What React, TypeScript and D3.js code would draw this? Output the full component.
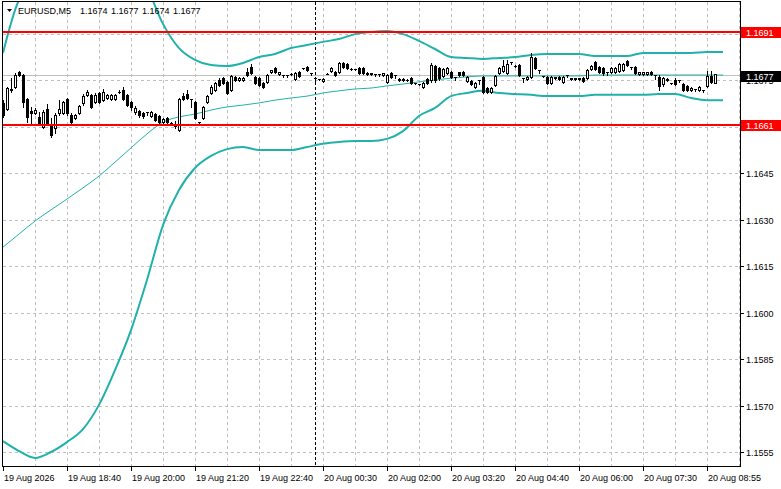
import React from 'react';
import * as d3 from 'd3';

const symbolTitle = 'EURUSD,M5';
const ohlcTitle = ['1.1674', '1.1677', '1.1674', '1.1677'];

// [open, high, low, close]
const candles: [number, number, number, number][] = [
  [1.16677, 1.16686, 1.16632, 1.16638], [1.16657, 1.16728, 1.16654, 1.16725], [1.16719, 1.16757, 1.16712, 1.16722], [1.16728, 1.16774, 1.16725, 1.16767],
  [1.16777, 1.1678, 1.16764, 1.16767], [1.16767, 1.1677, 1.16664, 1.1668], [1.1669, 1.16693, 1.16615, 1.16632], [1.16651, 1.16664, 1.16612, 1.16645],
  [1.16645, 1.16661, 1.16641, 1.16654], [1.16632, 1.16648, 1.16609, 1.16612], [1.16599, 1.16654, 1.16596, 1.16648], [1.16657, 1.16674, 1.16606, 1.16612],
  [1.16609, 1.16628, 1.16567, 1.16574], [1.16596, 1.16645, 1.1658, 1.16638], [1.16645, 1.16686, 1.16638, 1.16657], [1.16645, 1.16683, 1.16641, 1.1668],
  [1.1669, 1.16693, 1.16638, 1.16645], [1.16638, 1.16645, 1.16609, 1.16615], [1.16628, 1.16641, 1.16625, 1.16638], [1.16645, 1.1667, 1.16641, 1.16667],
  [1.16677, 1.16706, 1.1667, 1.16699], [1.16703, 1.16719, 1.16699, 1.16712], [1.16703, 1.16706, 1.16661, 1.16664], [1.1668, 1.16709, 1.16677, 1.16703],
  [1.16709, 1.16712, 1.16677, 1.1668], [1.16686, 1.16722, 1.16683, 1.16712], [1.16693, 1.16706, 1.1669, 1.16703], [1.1669, 1.16706, 1.16686, 1.16703],
  [1.1669, 1.16706, 1.16686, 1.16703], [1.16712, 1.16719, 1.16709, 1.16712], [1.16719, 1.16728, 1.16686, 1.1669], [1.16703, 1.16706, 1.16667, 1.1667],
  [1.1668, 1.16683, 1.16654, 1.16664], [1.16648, 1.16667, 1.16641, 1.16661], [1.16651, 1.16654, 1.16632, 1.16638], [1.16645, 1.16648, 1.16628, 1.16635],
  [1.16648, 1.16648, 1.16638, 1.16648], [1.16635, 1.16651, 1.16632, 1.16648], [1.16641, 1.16645, 1.16619, 1.16622], [1.16635, 1.16638, 1.16612, 1.16615],
  [1.16615, 1.16628, 1.16612, 1.16625], [1.16628, 1.16632, 1.16609, 1.16615], [1.16612, 1.16615, 1.16609, 1.16612], [1.16603, 1.16619, 1.16596, 1.16609],
  [1.1659, 1.16693, 1.16586, 1.1669], [1.16699, 1.16709, 1.16686, 1.1669], [1.16706, 1.16719, 1.1669, 1.16693], [1.1669, 1.1669, 1.16664, 1.1669],
  [1.1668, 1.16683, 1.16625, 1.16628], [1.16615, 1.16615, 1.16609, 1.16615], [1.16628, 1.16667, 1.16625, 1.16664], [1.1668, 1.16703, 1.16677, 1.16699],
  [1.16709, 1.16735, 1.16706, 1.16728], [1.16719, 1.16745, 1.16716, 1.16741], [1.16751, 1.16757, 1.16732, 1.16735], [1.16757, 1.16761, 1.16738, 1.16741],
  [1.16745, 1.16748, 1.16706, 1.16709], [1.16719, 1.16767, 1.16716, 1.16764], [1.16761, 1.16764, 1.16748, 1.16751], [1.16751, 1.16761, 1.16748, 1.16757],
  [1.16751, 1.16761, 1.16748, 1.16757], [1.16777, 1.1679, 1.16764, 1.16767], [1.16793, 1.16803, 1.1677, 1.16774], [1.16761, 1.16764, 1.16738, 1.16741],
  [1.16757, 1.16761, 1.16732, 1.16735], [1.16741, 1.16745, 1.16725, 1.16728], [1.16745, 1.1677, 1.16741, 1.16767], [1.16777, 1.16783, 1.16774, 1.16783],
  [1.1679, 1.16793, 1.16774, 1.16777], [1.1677, 1.16777, 1.16767, 1.16777], [1.16767, 1.16767, 1.16761, 1.16767], [1.16767, 1.16767, 1.16761, 1.16767],
  [1.1677, 1.16774, 1.16767, 1.1677], [1.16754, 1.16777, 1.16751, 1.16774], [1.16777, 1.1678, 1.16761, 1.16764], [1.1679, 1.1679, 1.16786, 1.1679],
  [1.16793, 1.16796, 1.1678, 1.16783], [1.16774, 1.16774, 1.16767, 1.16774], [1.16757, 1.16757, 1.16745, 1.16757], [1.16754, 1.16754, 1.16751, 1.16754],
  [1.16748, 1.16757, 1.16745, 1.16754], [1.1677, 1.16774, 1.1677, 1.1677], [1.1678, 1.16793, 1.16777, 1.1679], [1.16777, 1.1678, 1.16764, 1.16767],
  [1.16777, 1.16809, 1.16774, 1.16806], [1.16806, 1.16809, 1.1679, 1.16793], [1.16803, 1.16806, 1.16786, 1.1679], [1.16786, 1.1679, 1.16783, 1.16786],
  [1.16786, 1.16786, 1.16783, 1.16786], [1.1679, 1.16793, 1.1677, 1.16774], [1.1679, 1.16793, 1.1677, 1.16774], [1.1677, 1.16777, 1.16767, 1.16774],
  [1.1677, 1.16774, 1.16767, 1.16774], [1.1677, 1.1677, 1.16764, 1.1677], [1.1677, 1.1677, 1.16764, 1.1677], [1.16767, 1.16774, 1.16764, 1.16774],
  [1.16745, 1.1677, 1.16741, 1.16767], [1.16774, 1.16777, 1.16757, 1.16761], [1.16767, 1.16767, 1.16757, 1.16767], [1.16754, 1.16757, 1.16748, 1.16751],
  [1.16751, 1.16757, 1.16748, 1.16754], [1.16751, 1.16754, 1.16748, 1.16751], [1.16757, 1.16761, 1.16738, 1.16741], [1.16741, 1.16741, 1.16738, 1.16741],
  [1.16738, 1.16738, 1.16735, 1.16738], [1.16728, 1.16745, 1.16725, 1.16741], [1.16754, 1.16757, 1.16738, 1.16741], [1.16751, 1.16806, 1.16745, 1.16799],
  [1.16796, 1.16799, 1.16745, 1.16751], [1.1679, 1.16793, 1.16751, 1.16757], [1.16764, 1.1679, 1.16761, 1.16786], [1.16774, 1.16793, 1.1677, 1.1679],
  [1.16777, 1.1678, 1.16757, 1.16761], [1.16761, 1.16761, 1.16751, 1.16761], [1.16777, 1.16777, 1.16764, 1.16767], [1.16777, 1.1678, 1.16764, 1.16767],
  [1.16748, 1.16764, 1.16745, 1.16761], [1.16748, 1.16751, 1.16735, 1.16738], [1.16728, 1.16745, 1.16725, 1.16741], [1.16751, 1.16751, 1.16738, 1.16751],
  [1.16761, 1.16764, 1.16709, 1.16712], [1.16725, 1.16728, 1.16709, 1.16712], [1.16712, 1.16728, 1.16709, 1.16725], [1.16735, 1.16767, 1.16732, 1.16764],
  [1.16774, 1.16793, 1.1677, 1.1679], [1.1678, 1.16816, 1.16777, 1.16796], [1.16774, 1.16816, 1.1677, 1.16803], [1.16809, 1.16809, 1.16803, 1.16809],
  [1.16796, 1.16799, 1.16793, 1.16796], [1.16799, 1.16803, 1.16764, 1.16767], [1.16757, 1.16757, 1.16745, 1.16757], [1.16754, 1.16764, 1.16751, 1.16761],
  [1.16761, 1.16838, 1.16757, 1.16825], [1.16822, 1.16825, 1.16786, 1.1679], [1.16783, 1.16783, 1.16774, 1.16783], [1.16764, 1.16764, 1.16761, 1.16764],
  [1.16761, 1.16764, 1.16738, 1.16741], [1.16741, 1.16764, 1.16738, 1.16761], [1.16761, 1.16761, 1.16754, 1.16757], [1.16761, 1.16764, 1.16751, 1.16754],
  [1.16745, 1.16764, 1.16741, 1.16761], [1.16767, 1.16767, 1.16761, 1.16767], [1.16757, 1.16757, 1.16751, 1.16754], [1.16757, 1.16757, 1.16751, 1.16754],
  [1.16754, 1.16757, 1.16751, 1.16757], [1.16757, 1.16761, 1.16745, 1.16748], [1.16757, 1.16786, 1.16754, 1.16783], [1.16786, 1.16799, 1.16783, 1.16796],
  [1.16809, 1.16812, 1.16783, 1.16786], [1.16793, 1.16796, 1.16774, 1.16777], [1.1679, 1.16793, 1.16767, 1.16774], [1.16777, 1.16777, 1.16767, 1.16777],
  [1.16777, 1.16793, 1.16774, 1.1679], [1.16777, 1.16793, 1.16774, 1.1679], [1.1678, 1.16806, 1.16777, 1.16803], [1.16783, 1.16806, 1.1678, 1.16803],
  [1.16812, 1.16816, 1.16796, 1.16799], [1.16793, 1.16793, 1.16786, 1.16793], [1.16793, 1.16796, 1.1677, 1.16774], [1.1677, 1.16777, 1.16767, 1.16777],
  [1.1677, 1.16777, 1.16767, 1.16777], [1.1677, 1.16777, 1.16767, 1.16777], [1.16777, 1.1678, 1.16767, 1.1677], [1.16767, 1.16767, 1.16754, 1.16767],
  [1.16761, 1.16767, 1.16719, 1.16732], [1.16738, 1.16761, 1.16732, 1.16757], [1.16751, 1.16757, 1.16748, 1.16754], [1.16741, 1.16741, 1.16738, 1.16741],
  [1.16751, 1.16757, 1.16735, 1.16738], [1.16751, 1.16751, 1.16745, 1.16751], [1.16738, 1.16741, 1.16716, 1.16719], [1.16732, 1.16735, 1.16716, 1.16719],
  [1.16719, 1.16728, 1.16716, 1.16725], [1.16722, 1.16722, 1.16716, 1.16722], [1.16719, 1.16732, 1.16716, 1.16728], [1.16719, 1.16719, 1.16712, 1.16719],
  [1.16732, 1.1678, 1.16728, 1.16764], [1.16764, 1.1678, 1.16741, 1.16745], [1.1674, 1.1677, 1.1674, 1.1677],
];

// Bollinger bands, one value every 4 bars (bars 0, 4, 8, ... 180)
const bandStep = 4;
const upperBand = [
  1.16838, 1.17009, 1.17061, 1.17112, 1.17151, 1.1718, 1.1718, 1.17157, 1.17119, 1.17048,
  1.16932, 1.16854, 1.16816, 1.16799, 1.16796, 1.16806, 1.16825, 1.16835, 1.16854, 1.16864,
  1.16874, 1.16883, 1.16899, 1.16906, 1.16909, 1.16899, 1.16877, 1.16851, 1.16825, 1.16822,
  1.16819, 1.16822, 1.16825, 1.16832, 1.16835, 1.16835, 1.16835, 1.16828, 1.16828, 1.16828,
  1.16838, 1.16838, 1.16838, 1.16838, 1.16841, 1.16841,
];
const middleBand = [
  1.16212, 1.16254, 1.16296, 1.16332, 1.16367, 1.16403, 1.16441, 1.16486, 1.16532, 1.16577,
  1.16615, 1.16632, 1.16641, 1.16654, 1.16664, 1.1667, 1.16677, 1.16686, 1.16693, 1.16699,
  1.16709, 1.16716, 1.16722, 1.16725, 1.16732, 1.16738, 1.16745, 1.16751, 1.16757, 1.16761,
  1.16764, 1.16764, 1.16764, 1.16764, 1.16764, 1.16764, 1.16764, 1.16767, 1.16767, 1.16767,
  1.16767, 1.16767, 1.16767, 1.16767, 1.16767, 1.16767,
];
const lowerBand = [
  1.15586, 1.15554, 1.15532, 1.15551, 1.15583, 1.15625, 1.15703, 1.15815, 1.15944, 1.16106,
  1.16283, 1.16396, 1.16467, 1.16506, 1.16528, 1.16535, 1.16525, 1.16525, 1.16525, 1.16535,
  1.16545, 1.16551, 1.16554, 1.16554, 1.16561, 1.16586, 1.16635, 1.16661, 1.16699, 1.16709,
  1.16716, 1.16709, 1.16706, 1.16703, 1.16699, 1.16699, 1.16699, 1.16703, 1.16703, 1.16703,
  1.16703, 1.16706, 1.16706, 1.16693, 1.16686, 1.16686,
];

const priceTicks = [1.1555, 1.157, 1.1585, 1.16, 1.1615, 1.163, 1.1645, 1.166, 1.1675, 1.169];
// tick labels fully covered by the level/price boxes are not printed
const coveredTicks = [1.166, 1.169];
const timeLabels = [
  '19 Aug 2026', '19 Aug 18:40', '19 Aug 20:00', '19 Aug 21:20', '19 Aug 22:40', '20 Aug 00:30',
  '20 Aug 02:00', '20 Aug 03:20', '20 Aug 04:40', '20 Aug 06:00', '20 Aug 07:30', '20 Aug 08:55',
];
const timeLabelBars = [0, 16, 32, 48, 64, 80, 96, 112, 128, 144, 160, 176];
const levelLines = [1.1691, 1.1661];
const bidPrice = 1.1677;
const separatorBar = 78;

const W = 781;
const H = 489;
const L = 2.5, R = 740.5, T = 1.5, B = 466.5;
const FONT = "'Liberation Sans', Arial, sans-serif";
const TEAL = '#20b2aa';

export default function App() {
  const x = d3.scaleLinear().domain([0, 178]).range([3, 715]);
  const y = d3.scaleLinear().domain([1.1555, 1.169]).range([452.3, 33.8]);
  const px = (i: number) => Math.round(x(i));
  const py = (p: number) => Math.round(y(p)) + 0.5;

  const bandLine = d3
    .line<number>()
    .x((_, k) => x(k * bandStep))
    .y((v) => y(v))
    .curve(d3.curveMonotoneX);

  const gridBars = d3.range(8, 185, 8);
  const fmt = d3.format('.4f');

  return (
    <svg width={W} height={H} style={{ position: 'fixed', left: 0, top: 0, background: '#fff' }} shapeRendering="crispEdges">
      <defs>
        <clipPath id="plot">
          <rect x={L} y={T} width={R - L} height={B - T} />
        </clipPath>
      </defs>
      <rect x={0} y={0} width={W} height={H} fill="#fff" />

      {/* grid */}
      <g stroke="#c0c0c0" strokeDasharray="3,3" strokeWidth={1}>
        {gridBars.map((b) => (
          <line key={'v' + b} x1={px(b) + 0.5} x2={px(b) + 0.5} y1={T} y2={B} />
        ))}
        {priceTicks.map((p) => (
          <line key={'h' + p} x1={L} x2={R} y1={py(p)} y2={py(p)} />
        ))}
      </g>

      {/* period separator */}
      <line x1={px(separatorBar) + 0.5} x2={px(separatorBar) + 0.5} y1={T} y2={B} stroke="#000" strokeDasharray="3,2" />

      {/* bid line */}
      <line x1={L} x2={R} y1={py(bidPrice) + 1} y2={py(bidPrice) + 1} stroke="#c0c0c0" />

      {/* Bollinger bands */}
      <g clipPath="url(#plot)" fill="none" shapeRendering="auto">
        <path d={bandLine(middleBand) || ''} stroke={TEAL} strokeWidth={1} />
        <path d={bandLine(upperBand) || ''} stroke={TEAL} strokeWidth={2} />
        <path d={bandLine(lowerBand) || ''} stroke={TEAL} strokeWidth={2} />
      </g>

      {/* candles */}
      <g clipPath="url(#plot)">
        {candles.map(([o, h, l, c], i) => {
          const cx = px(i);
          const top = Math.min(py(o), py(c));
          const bot = Math.max(py(o), py(c));
          const up = c > o;
          return (
            <g key={i}>
              <line x1={cx + 0.5} x2={cx + 0.5} y1={py(h) - 0.5} y2={py(l) + 0.5} stroke="#000" />
              {bot - top < 1 ? (
                <line x1={cx - 1} x2={cx + 2} y1={top} y2={top} stroke="#000" />
              ) : (
                <rect x={cx - 0.5} y={top} width={2} height={bot - top} fill={up ? '#fff' : '#000'} stroke="#000" />
              )}
            </g>
          );
        })}
      </g>

      {/* horizontal level lines */}
      {levelLines.map((p) => (
        <line key={'lv' + p} x1={L} x2={R} y1={y(p) + 1} y2={y(p) + 1} stroke="#ff0000" strokeWidth={2} />
      ))}

      {/* frame */}
      <rect x={L} y={T} width={R - L} height={B - T} fill="none" stroke="#000" />

      {/* right axis */}
      <g fontFamily={FONT} fontSize={9} fill="#000">
        {priceTicks.map((p) => (
          <g key={'t' + p}>
            <line x1={R} x2={R + 3} y1={py(p)} y2={py(p)} stroke="#000" />
            {coveredTicks.includes(p) ? null : (
              <text x={746} y={py(p) + 0.5} dominantBaseline="central">{fmt(p)}</text>
            )}
          </g>
        ))}
      </g>

      {/* price labels */}
      <g fontFamily={FONT} fontSize={9}>
        {levelLines.map((p) => (
          <g key={'lb' + p}>
            <rect x={741} y={Math.round(y(p)) - 4} width={40} height={11} fill="#ff0000" />
            <text x={746} y={Math.round(y(p)) + 1.5} dominantBaseline="central" fill="#fff">{fmt(p)}</text>
          </g>
        ))}
        <rect x={741} y={Math.round(y(bidPrice)) - 3} width={40} height={11} fill="#000" />
        <text x={746} y={Math.round(y(bidPrice)) + 2.5} dominantBaseline="central" fill="#fff">{fmt(bidPrice)}</text>
      </g>

      {/* bottom axis */}
      <g fontFamily={FONT} fontSize={9} fill="#000">
        {timeLabels.map((t, k) => (
          <g key={t}>
            <line x1={px(timeLabelBars[k]) + 0.5} x2={px(timeLabelBars[k]) + 0.5} y1={B} y2={B + 4} stroke="#000" />
            <text x={px(timeLabelBars[k]) + 1} y={481}>{t}</text>
          </g>
        ))}
      </g>

      {/* title */}
      <polygon points="7,9 12,9 9.5,12" fill="#000" shapeRendering="auto" />
      <g fontFamily={FONT} fontSize={9} fill="#000">
        <text x={18} y={14}>{symbolTitle}</text>
        {ohlcTitle.map((v, k) => (
          <text key={k} x={80 + k * 31} y={14}>{v}</text>
        ))}
      </g>
    </svg>
  );
}
